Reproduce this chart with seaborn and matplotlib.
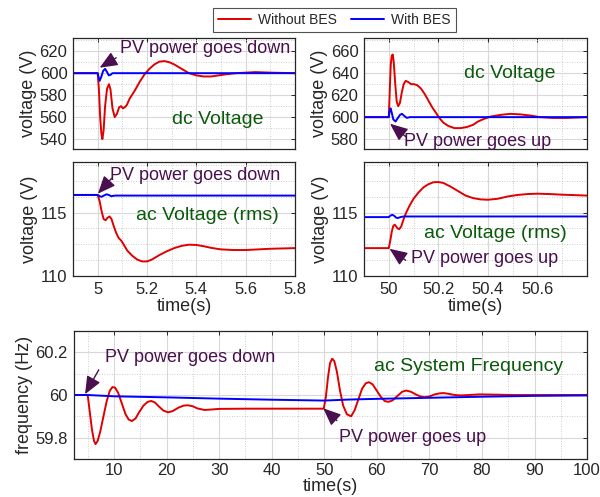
import numpy as np
import pandas as pd
import matplotlib
matplotlib.use("Agg")
import matplotlib.pyplot as plt
import seaborn as sns
from matplotlib.ticker import AutoMinorLocator
from matplotlib.lines import Line2D

# ---- data ----
# dc voltage, PV power goes down (around t = 5 s)
dc_down_t_red = [4.9, 5.0, 5.005, 5.01, 5.015, 5.019, 5.024, 5.03, 5.038, 5.046, 5.052, 5.06, 5.069,
                 5.078, 5.087, 5.095, 5.102, 5.11, 5.118, 5.13, 5.15, 5.17, 5.19, 5.21, 5.23, 5.25,
                 5.27, 5.29, 5.31, 5.34, 5.37, 5.40, 5.43, 5.46, 5.49, 5.52, 5.56, 5.60, 5.64, 5.70, 5.8]
dc_down_v_red = [600, 600, 585, 560, 545, 540, 548, 570, 586, 590, 585, 568, 560,
                 563, 569, 570, 568, 569, 571, 577, 584, 592, 599, 604, 608, 610.5,
                 611, 610, 608, 604, 600, 598, 597, 597, 598, 599, 600, 600.5, 601, 600.5, 600]
dc_down_t_blue = [4.9, 5.0, 5.004, 5.008, 5.015, 5.022, 5.03, 5.038, 5.045, 5.052, 5.06, 5.07, 5.8]
dc_down_v_blue = [600, 600, 596, 593, 597, 602, 604, 601, 598, 598.5, 600, 600, 600]

# dc voltage, PV power goes up (around t = 50 s)
dc_up_t_red = [49.9, 50.0, 50.004, 50.008, 50.012, 50.016, 50.02, 50.026, 50.032, 50.038, 50.045,
               50.052, 50.06, 50.068, 50.078, 50.09, 50.102, 50.115, 50.13, 50.145, 50.16, 50.175,
               50.19, 50.205, 50.22, 50.24, 50.265, 50.29, 50.315, 50.34, 50.36, 50.385, 50.41,
               50.45, 50.49, 50.53, 50.57, 50.61, 50.66, 50.72, 50.8]
dc_up_v_red = [600, 600, 625, 648, 656, 657, 650, 630, 614, 610, 613,
               622, 630, 633, 632, 630, 630, 629, 626, 621, 615, 609,
               604, 599, 595, 592, 590, 590, 591, 593, 596, 598.5, 600.5,
               602, 603, 602.5, 601.5, 600, 599.3, 599.3, 600]
dc_up_t_blue = [49.9, 50.0, 50.003, 50.007, 50.012, 50.018, 50.027, 50.036, 50.045, 50.053,
                50.063, 50.073, 50.085, 50.8]
dc_up_v_blue = [600, 600, 605, 608, 604, 598, 596, 599, 602, 603, 601, 599.3, 600, 600]

# ac voltage (rms), PV power goes down
ac_down_t_red = [4.9, 5.0, 5.008, 5.016, 5.024, 5.032, 5.04, 5.048, 5.056, 5.064, 5.075, 5.085,
                 5.095, 5.105, 5.12, 5.14, 5.16, 5.18, 5.2, 5.22, 5.25, 5.28, 5.31, 5.34, 5.37,
                 5.40, 5.43, 5.46, 5.5, 5.55, 5.6, 5.65, 5.7, 5.8]
ac_down_v_red = [116.4, 116.4, 115.9, 115.1, 114.5, 114.4, 114.6, 114.7, 114.5, 114.0, 113.4, 113.0,
                 112.8, 112.5, 112.0, 111.6, 111.3, 111.15, 111.15, 111.3, 111.65, 111.95, 112.2,
                 112.38, 112.47, 112.45, 112.35, 112.22, 112.1, 112.05, 112.05, 112.1, 112.15, 112.2]
ac_down_t_blue = [4.9, 5.0, 5.008, 5.015, 5.025, 5.035, 5.045, 5.055, 5.07, 5.8]
ac_down_v_blue = [116.4, 116.4, 116.3, 116.25, 116.35, 116.45, 116.4, 116.3, 116.35, 116.35]

# ac voltage (rms), PV power goes up
ac_up_t_red = [49.9, 50.0, 50.006, 50.012, 50.018, 50.024, 50.03, 50.036, 50.042, 50.05, 50.06,
               50.07, 50.085, 50.1, 50.12, 50.14, 50.16, 50.18, 50.2, 50.22, 50.25, 50.28, 50.31,
               50.34, 50.37, 50.4, 50.44, 50.48, 50.52, 50.56, 50.6, 50.65, 50.7, 50.8]
ac_up_v_red = [112.2, 112.2, 112.8, 113.5, 113.95, 114.05, 113.9, 113.75, 113.7, 113.9, 114.5,
               115.0, 115.6, 116.1, 116.6, 117.0, 117.25, 117.4, 117.42, 117.35, 117.05, 116.7,
               116.35, 116.15, 116.05, 116.02, 116.1, 116.28, 116.4, 116.47, 116.5, 116.47,
               116.42, 116.35]
ac_up_t_blue = [49.9, 50.0, 50.007, 50.014, 50.022, 50.03, 50.037, 50.047, 50.06, 50.8]
ac_up_v_blue = [114.65, 114.65, 114.77, 114.83, 114.75, 114.6, 114.58, 114.65, 114.7, 114.7]

# ac system frequency, whole run
freq_t_red = [2.3, 5.0, 5.4, 5.8, 6.2, 6.5, 6.9, 7.4, 8.0, 8.6, 9.2, 9.7, 10.2, 10.8, 11.5, 12.2,
              12.8, 13.4, 14.1, 14.8, 15.6, 16.4, 17.1, 17.8, 18.6, 19.4, 20.3, 21.2, 22.2, 23.2,
              24.0, 24.9, 25.9, 27.2, 28.5, 30, 35, 40, 45, 49.9, 50.3, 50.7, 51.1, 51.5, 51.9,
              52.4, 53.0, 53.6, 54.3, 55.1, 55.8, 56.5, 57.2, 57.9, 58.5, 59.2, 60.0, 60.8, 61.5,
              62.2, 63.0, 63.9, 64.8, 65.6, 66.5, 67.4, 68.3, 69.1, 70.0, 71.0, 72.0, 72.7, 73.6,
              74.8, 76.0, 77.5, 79.5, 82, 86, 90, 100]
freq_v_red = [60, 60, 59.92, 59.84, 59.785, 59.77, 59.785, 59.83, 59.9, 59.97, 60.02, 60.037,
              60.035, 60.01, 59.96, 59.91, 59.885, 59.878, 59.89, 59.92, 59.95, 59.968, 59.972,
              59.965, 59.945, 59.927, 59.919, 59.925, 59.94, 59.95, 59.952, 59.948, 59.937, 59.93,
              59.932, 59.935, 59.936, 59.936, 59.936, 59.936, 59.99, 60.08, 60.15, 60.17, 60.16,
              60.11, 60.02, 59.95, 59.91, 59.90, 59.93, 59.98, 60.03, 60.055, 60.06, 60.05, 60.02,
              59.99, 59.972, 59.968, 59.975, 59.995, 60.015, 60.021, 60.015, 60.003, 59.993,
              59.99, 59.993, 60.003, 60.008, 60.009, 60.006, 60.0, 59.998, 60.0, 60.003, 60.002,
              60.0, 60.0, 60.0]
freq_t_blue = [2.3, 5, 10, 20, 30, 40, 45, 49.9, 52, 55, 60, 70, 80, 90, 100]
freq_v_blue = [60.0, 60.0, 59.994, 59.989, 59.983, 59.978, 59.976, 59.974, 59.976, 59.979,
               59.982, 59.987, 59.992, 59.996, 59.998]

legend_labels = ["Without BES", "With BES"]

RED = "#e00000"
BLUE = "#0000ff"
PURPLE = "#4a0f4f"
GREEN = "#0b5a0b"

sns.set_theme(style="whitegrid")
plt.rcParams["font.family"] = ["Liberation Sans", "DejaVu Sans"]
plt.rcParams["axes.edgecolor"] = "#262626"
plt.rcParams["axes.linewidth"] = 0.9

fig = plt.figure(figsize=(6, 4.97), dpi=100)
ax_tl = fig.add_axes([0.1217, 0.7002, 0.370, 0.2233])
ax_tr = fig.add_axes([0.6067, 0.7002, 0.3717, 0.2233])
ax_ml = fig.add_axes([0.1217, 0.4447, 0.370, 0.2293])
ax_mr = fig.add_axes([0.6067, 0.4447, 0.3717, 0.2293])
ax_b = fig.add_axes([0.1225, 0.0764, 0.856, 0.2576])


def draw(ax, t_red, v_red, t_blue, v_blue):
    sns.lineplot(x=t_red, y=v_red, ax=ax, color=RED, lw=1.4, estimator=None, sort=False)
    sns.lineplot(x=t_blue, y=v_blue, ax=ax, color=BLUE, lw=1.4, estimator=None, sort=False)


def style(ax, ylabel, xlabel=None, yminor=2, xpad=1):
    ax.set_facecolor("white")
    ax.xaxis.set_minor_locator(AutoMinorLocator(2))
    ax.yaxis.set_minor_locator(AutoMinorLocator(yminor))
    ax.grid(which="major", color="#d8d8d8", lw=0.8, ls="-")
    ax.grid(which="minor", color="#bdbdbd", lw=0.6, ls=(0, (1, 2)))
    ax.tick_params(which="both", direction="in", labelsize=12, colors="#262626",
                   length=3, width=0.7, top=True, right=True, pad=4)
    ax.tick_params(which="minor", length=0)
    for s in ax.spines.values():
        s.set_color("#262626")
        s.set_visible(True)
    ax.set_ylabel(ylabel, fontsize=13, color="#262626", labelpad=2)
    if xlabel:
        ax.set_xlabel(xlabel, fontsize=13, color="#262626", labelpad=xpad)
    else:
        ax.set_xlabel("")


def arrow(ax, head, tail):
    ax.annotate("", xy=head, xytext=tail,
                arrowprops=dict(arrowstyle="-|>,head_length=0.9,head_width=0.38",
                                color=PURPLE, lw=1.0, shrinkA=0, shrinkB=0))


# top left: dc voltage, PV down
draw(ax_tl, dc_down_t_red, dc_down_v_red, dc_down_t_blue, dc_down_v_blue)
ax_tl.set_xlim(4.9, 5.8)
ax_tl.set_ylim(531, 632)
ax_tl.set_xticks([5, 5.2, 5.4, 5.6, 5.8])
ax_tl.set_yticks([540, 560, 580, 600, 620])
ax_tl.tick_params(labelbottom=False)
style(ax_tl, "voltage (V)")
ax_tl.text(5.09, 622.5, "PV power goes down", color=PURPLE, fontsize=13, ha="left", va="center")
arrow(ax_tl, (5.008, 605), (5.075, 614))
ax_tl.text(5.486, 558, "dc Voltage", color=GREEN, fontsize=14, ha="center", va="center")

# top right: dc voltage, PV up
draw(ax_tr, dc_up_t_red, dc_up_v_red, dc_up_t_blue, dc_up_v_blue)
ax_tr.set_xlim(49.9, 50.8)
ax_tr.set_ylim(571, 672)
ax_tr.set_xticks([50, 50.2, 50.4, 50.6])
ax_tr.set_yticks([580, 600, 620, 640, 660])
ax_tr.tick_params(labelbottom=False)
style(ax_tr, "voltage (V)")
ax_tr.text(50.061, 578, "PV power goes up", color=PURPLE, fontsize=13, ha="left", va="center")
arrow(ax_tr, (50.005, 594), (50.07, 582))
ax_tr.text(50.49, 640, "dc Voltage", color=GREEN, fontsize=14, ha="center", va="center")

# middle left: ac voltage, PV down
draw(ax_ml, ac_down_t_red, ac_down_v_red, ac_down_t_blue, ac_down_v_blue)
ax_ml.set_xlim(4.9, 5.8)
ax_ml.set_ylim(110, 119)
ax_ml.set_xticks([5, 5.2, 5.4, 5.6, 5.8])
ax_ml.set_yticks([110, 115])
ax_ml.set_xticklabels(["5", "5.2", "5.4", "5.6", "5.8"])
style(ax_ml, "voltage (V)", "time(s)", yminor=4)
ax_ml.text(5.049, 117.95, "PV power goes down", color=PURPLE, fontsize=13, ha="left", va="center")
arrow(ax_ml, (5.001, 116.5), (5.056, 117.7))
ax_ml.text(5.444, 114.8, "ac Voltage (rms)", color=GREEN, fontsize=14, ha="center", va="center")

# middle right: ac voltage, PV up
draw(ax_mr, ac_up_t_red, ac_up_v_red, ac_up_t_blue, ac_up_v_blue)
ax_mr.set_xlim(49.9, 50.8)
ax_mr.set_ylim(110, 119)
ax_mr.set_xticks([50, 50.2, 50.4, 50.6])
ax_mr.set_yticks([110, 115])
ax_mr.set_xticklabels(["50", "50.2", "50.4", "50.6"])
style(ax_mr, "voltage (V)", "time(s)", yminor=4)
ax_mr.text(50.089, 111.37, "PV power goes up", color=PURPLE, fontsize=13, ha="left", va="center")
arrow(ax_mr, (50.003, 112.15), (50.068, 111.24))
ax_mr.text(50.432, 113.34, "ac Voltage (rms)", color=GREEN, fontsize=14, ha="center", va="center")

# bottom: ac system frequency
draw(ax_b, freq_t_red, freq_v_red, freq_t_blue, freq_v_blue)
ax_b.set_xlim(2.3, 100)
ax_b.set_ylim(59.7, 60.3)
ax_b.set_xticks(np.arange(10, 101, 10))
ax_b.set_yticks([59.8, 60, 60.2])
ax_b.set_yticklabels(["59.8", "60", "60.2"])
style(ax_b, "frequency (Hz)", "time(s)", xpad=0)
ax_b.tick_params(axis="x", pad=3)
ax_b.text(8.3, 60.177, "PV power goes down", color=PURPLE, fontsize=13, ha="left", va="center")
arrow(ax_b, (4.5, 60.004), (7.1, 60.118))
ax_b.text(52.8, 59.80, "PV power goes up", color=PURPLE, fontsize=13, ha="left", va="center")
arrow(ax_b, (49.8, 59.938), (52.4, 59.88))
ax_b.text(77.45, 60.132, "ac System Frequency", color=GREEN, fontsize=14, ha="center", va="center")

handles = [Line2D([], [], color=RED, lw=1.4), Line2D([], [], color=BLUE, lw=1.4)]
leg = fig.legend(handles, legend_labels, loc="center", bbox_to_anchor=(0.5575, 0.96), ncol=2,
                 fontsize=10, frameon=True, fancybox=False, handlelength=2.4,
                 columnspacing=1.0, handletextpad=0.5, borderpad=0.35)
leg.get_frame().set_edgecolor("#262626")
leg.get_frame().set_linewidth(0.8)

fig.savefig("out.png", dpi=100, facecolor="white")
